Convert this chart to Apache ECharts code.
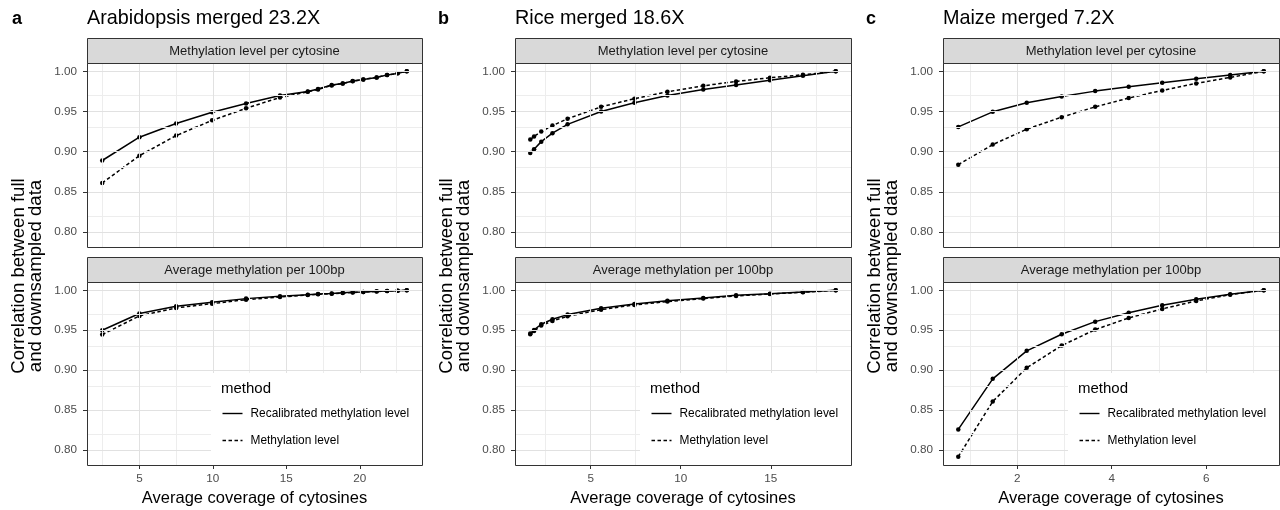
<!DOCTYPE html>
<html>
<head>
<meta charset="utf-8">
<script src="https://cdn.jsdelivr.net/npm/echarts@6.0.0/dist/echarts.min.js"></script>
<style>
  html, body { margin: 0; padding: 0; background: #ffffff; }
  #chart { width: 1280px; height: 510px; }
</style>
</head>
<body>
<div id="chart"></div>
<script>
// ---- Data: average coverage (x) and correlation with the full data (y) ----
const araCov = [2.47, 5.0, 7.5, 9.95, 12.26, 14.57, 16.46, 17.16, 18.09, 18.84, 19.52, 20.24, 21.15, 21.86, 22.58, 23.2];
const araCytRecal = [0.889, 0.918, 0.935, 0.949, 0.960, 0.970, 0.975, 0.978, 0.983, 0.985, 0.988, 0.990, 0.9925, 0.9955, 0.9975, 1.0];
const araCytMeth = [0.861, 0.895, 0.920, 0.939, 0.954, 0.9675, 0.9745, 0.9775, 0.9825, 0.985, 0.9878, 0.990, 0.9925, 0.9955, 0.9975, 1.0];
const ara100Recal = [0.950, 0.971, 0.980, 0.985, 0.9896, 0.9925, 0.9946, 0.9954, 0.996, 0.997, 0.9975, 0.998, 0.9988, 0.9992, 0.9996, 1.0];
const ara100Meth = [0.9446, 0.968, 0.978, 0.9833, 0.9883, 0.9917, 0.994, 0.995, 0.9957, 0.9966, 0.9972, 0.9978, 0.9985, 0.999, 0.9995, 1.0];

const riceCov = [1.65, 1.86, 2.26, 2.88, 3.72, 5.58, 7.43, 9.26, 11.25, 13.07, 14.95, 16.78, 18.6];
const riceCytRecal = [0.8983, 0.903, 0.9125, 0.923, 0.934, 0.950, 0.961, 0.970, 0.9775, 0.983, 0.989, 0.9946, 1.0];
const riceCytMeth = [0.915, 0.919, 0.925, 0.9325, 0.941, 0.9558, 0.966, 0.9746, 0.982, 0.9875, 0.992, 0.9958, 1.0];
const rice100Recal = [0.9458, 0.9504, 0.9575, 0.9638, 0.9696, 0.9775, 0.983, 0.987, 0.9904, 0.9938, 0.9958, 0.9979, 1.0];
const rice100Meth = [0.945, 0.949, 0.9558, 0.9617, 0.9675, 0.9758, 0.9817, 0.986, 0.9896, 0.993, 0.9954, 0.9975, 1.0];

const maizeCov = [0.75, 1.48, 2.2, 2.94, 3.65, 4.36, 5.07, 5.79, 6.51, 7.22];
const maizeCytRecal = [0.9308, 0.9496, 0.961, 0.9688, 0.9754, 0.9808, 0.9858, 0.9908, 0.9954, 1.0];
const maizeCytMeth = [0.8838, 0.9088, 0.928, 0.943, 0.9558, 0.9667, 0.9763, 0.985, 0.9925, 1.0];
const maize100Recal = [0.8258, 0.8892, 0.9242, 0.945, 0.9608, 0.972, 0.9813, 0.9888, 0.995, 1.0];
const maize100Meth = [0.7917, 0.8608, 0.903, 0.9308, 0.9508, 0.9654, 0.9767, 0.9867, 0.9946, 1.0];

// ---- Tick labels ----
const yTicks = [0.80, 0.85, 0.90, 0.95, 1.00];
const araXTicks = [5, 10, 15, 20];
const riceXTicks = [5, 10, 15];
const maizeXTicks = [2, 4, 6];

// ---- Text ----
const panelLetters = ['a', 'b', 'c'];
const panelTitles = ['Arabidopsis merged 23.2X', 'Rice merged 18.6X', 'Maize merged 7.2X'];
const facetNames = ['Methylation level per cytosine', 'Average methylation per 100bp'];
const methodNames = ['Recalibrated methylation level', 'Methylation level'];
const legendTitle = 'method';
const xTitle = 'Average coverage of cytosines';
const yTitle = 'Correlation between full\nand downsampled data';

// ---- Assemble panels ----
const panels = [
  { cov: araCov, xTicks: araXTicks, facets: [[araCytRecal, araCytMeth], [ara100Recal, ara100Meth]] },
  { cov: riceCov, xTicks: riceXTicks, facets: [[riceCytRecal, riceCytMeth], [rice100Recal, rice100Meth]] },
  { cov: maizeCov, xTicks: maizeXTicks, facets: [[maizeCytRecal, maizeCytMeth], [maize100Recal, maize100Meth]] }
];

// ---- Layout (pixels) ----
const FONT = '"Liberation Sans", Arial, Helvetica, sans-serif';
const lefts = [87, 515, 943];
const rights = [422, 851, 1279];
const letterX = [12, 438, 866];
const stripTops = [38, 257];
const STRIP_H = 25;
const plotTops = [63, 282];
const plotBottoms = [247, 465];
const LEGEND_W = 211;
const LEGEND_TOP = 373;

// ggplot-style 5% expansion of the data range
function expand(vals) {
  const lo = Math.min(...vals), hi = Math.max(...vals);
  const pad = (hi - lo) * 0.05;
  return [lo - pad, hi + pad];
}
function minorOf(ticks, range) {
  const step = ticks[1] - ticks[0];
  const out = [];
  for (let k = -1; k < ticks.length; k++) {
    const v = (k < 0 ? ticks[0] - step : ticks[k]) + step / 2;
    if (v > range[0] && v < range[1]) out.push(v);
  }
  return out;
}

const allY = [];
panels.forEach(p => p.facets.forEach(f => f.forEach(s => allY.push(...s))));
const yRange = expand(allY);
const yMinor = minorOf(yTicks, yRange);

const grids = [], xAxes = [], yAxes = [], series = [], graphics = [];
const MAJOR = { color: '#E1E1E1', width: 1, type: 'solid' };
const MINOR = { color: '#EDEDED', width: 1, type: 'solid' };

function text(x, y, str, font, align, extra) {
  return Object.assign({
    type: 'text', z: 51, silent: true,
    style: { text: str, x: x, y: y, align: align, verticalAlign: 'middle',
             textAlign: align, textVerticalAlign: 'middle', font: font, fill: '#000000' }
  }, extra || {});
}

panels.forEach((p, pi) => {
  const xRange = expand(p.cov);
  const xMinor = minorOf(p.xTicks, xRange);
  const w = rights[pi] - lefts[pi];

  p.facets.forEach((facet, fi) => {
    const gi = pi * 2 + fi;
    const h = plotBottoms[fi] - plotTops[fi];
    const isBottom = fi === 1;
    grids.push({ left: lefts[pi], top: plotTops[fi], width: w, height: h, containLabel: false });

    xAxes.push({
      type: 'value', gridIndex: gi, min: xRange[0], max: xRange[1],
      axisLine: { show: false }, splitLine: { show: false },
      axisTick: { show: isBottom, length: 4, lineStyle: { color: '#333333', width: 1 }, customValues: p.xTicks },
      axisLabel: { show: isBottom, customValues: p.xTicks, color: '#4D4D4D', fontSize: 11.7, fontFamily: FONT, margin: 8 },
      name: isBottom ? xTitle : '', nameLocation: 'middle', nameGap: 25,
      nameTextStyle: { color: '#000000', fontSize: 16.5, fontFamily: FONT, verticalAlign: 'top' }
    });
    yAxes.push({
      type: 'value', gridIndex: gi, min: yRange[0], max: yRange[1],
      axisLine: { show: false }, splitLine: { show: false },
      axisTick: { show: true, length: 4, lineStyle: { color: '#333333', width: 1 }, customValues: yTicks },
      axisLabel: { show: true, customValues: yTicks, color: '#4D4D4D', fontSize: 11.7, fontFamily: FONT, margin: 10,
                   formatter: v => v.toFixed(2) }
    });

    // panel grid lines, drawn through the axes' own scales
    const gridLines = [];
    yMinor.forEach(v => gridLines.push({ yAxis: v, lineStyle: MINOR }));
    xMinor.forEach(v => gridLines.push({ xAxis: v, lineStyle: MINOR }));
    yTicks.forEach(v => gridLines.push({ yAxis: v, lineStyle: MAJOR }));
    p.xTicks.forEach(v => gridLines.push({ xAxis: v, lineStyle: MAJOR }));
    series.push({
      type: 'line', xAxisIndex: gi, yAxisIndex: gi, data: [], z: 1, silent: true,
      markLine: { silent: true, symbol: ['none', 'none'], label: { show: false }, animation: false,
                  emphasis: { disabled: true }, data: gridLines }
    });

    facet.forEach((ys, mi) => {
      const pts = p.cov.map((x, k) => [x, ys[k]]);
      series.push({
        type: 'line', name: methodNames[mi], xAxisIndex: gi, yAxisIndex: gi, z: 3, silent: true,
        data: pts, showSymbol: false, symbol: 'none',
        lineStyle: { color: '#000000', width: 1.5, type: mi === 0 ? 'solid' : [3.5, 2.5] },
        emphasis: { disabled: true }
      });
      series.push({
        type: 'scatter', name: methodNames[mi], xAxisIndex: gi, yAxisIndex: gi, z: 4, silent: true,
        data: pts, symbol: 'circle', symbolSize: 4.5,
        itemStyle: { color: '#000000', borderWidth: 0, opacity: 1 },
        emphasis: { disabled: true }
      });
    });

    // facet strip
    graphics.push({
      type: 'rect', z: 40, silent: true,
      shape: { x: lefts[pi] + 0.5, y: stripTops[fi] + 0.5, width: w, height: STRIP_H },
      style: { fill: '#D9D9D9', stroke: '#333333', lineWidth: 1 }
    });
    const st = text(lefts[pi] + w / 2, stripTops[fi] + STRIP_H / 2 + 1, facetNames[fi], '13px ' + FONT, 'center');
    st.style.fill = '#1A1A1A';
    graphics.push(st);
    // panel border
    graphics.push({
      type: 'rect', z: 60, silent: true,
      shape: { x: lefts[pi] + 0.5, y: plotTops[fi] + 0.5, width: w, height: h },
      style: { fill: 'none', stroke: '#333333', lineWidth: 1 }
    });
  });

  // method legend inside the lower panel
  const lx = rights[pi] - LEGEND_W;
  graphics.push({
    type: 'rect', z: 50, silent: true,
    shape: { x: lx, y: LEGEND_TOP, width: LEGEND_W, height: plotBottoms[1] - LEGEND_TOP },
    style: { fill: '#FFFFFF' }
  });
  graphics.push(text(lx + 10, 388.5, legendTitle, '15px ' + FONT, 'left'));
  methodNames.forEach((name, mi) => {
    const ly = mi === 0 ? 413.5 : 440.5;
    graphics.push({
      type: 'line', z: 51, silent: true,
      shape: { x1: lx + 11.5, y1: ly, x2: lx + 31.5, y2: ly },
      style: { stroke: '#000000', lineWidth: 1.4, lineDash: mi === 0 ? null : [3.5, 2.5] }
    });
    graphics.push(text(lx + 39.5, ly, name, '11.9px ' + FONT, 'left'));
  });

  // panel letter and title
  graphics.push(text(letterX[pi], 19, panelLetters[pi], 'bold 18px ' + FONT, 'left'));
  graphics.push(text(lefts[pi], 19, panelTitles[pi], '19.8px ' + FONT, 'left'));
  // y-axis title, shared by both facets of the panel
  const yt = text(0, 0, yTitle, '18.6px ' + FONT, 'center', { x: lefts[pi] - 59.5, y: 276, rotation: Math.PI / 2 });
  yt.style.lineHeight = 17;
  graphics.push(yt);
});

const chart = echarts.init(document.getElementById('chart'), null, { renderer: 'canvas' });
chart.setOption({
  animation: false,
  backgroundColor: '#FFFFFF',
  grid: grids,
  xAxis: xAxes,
  yAxis: yAxes,
  series: series,
  graphic: { elements: graphics }
});
</script>
</body>
</html>
